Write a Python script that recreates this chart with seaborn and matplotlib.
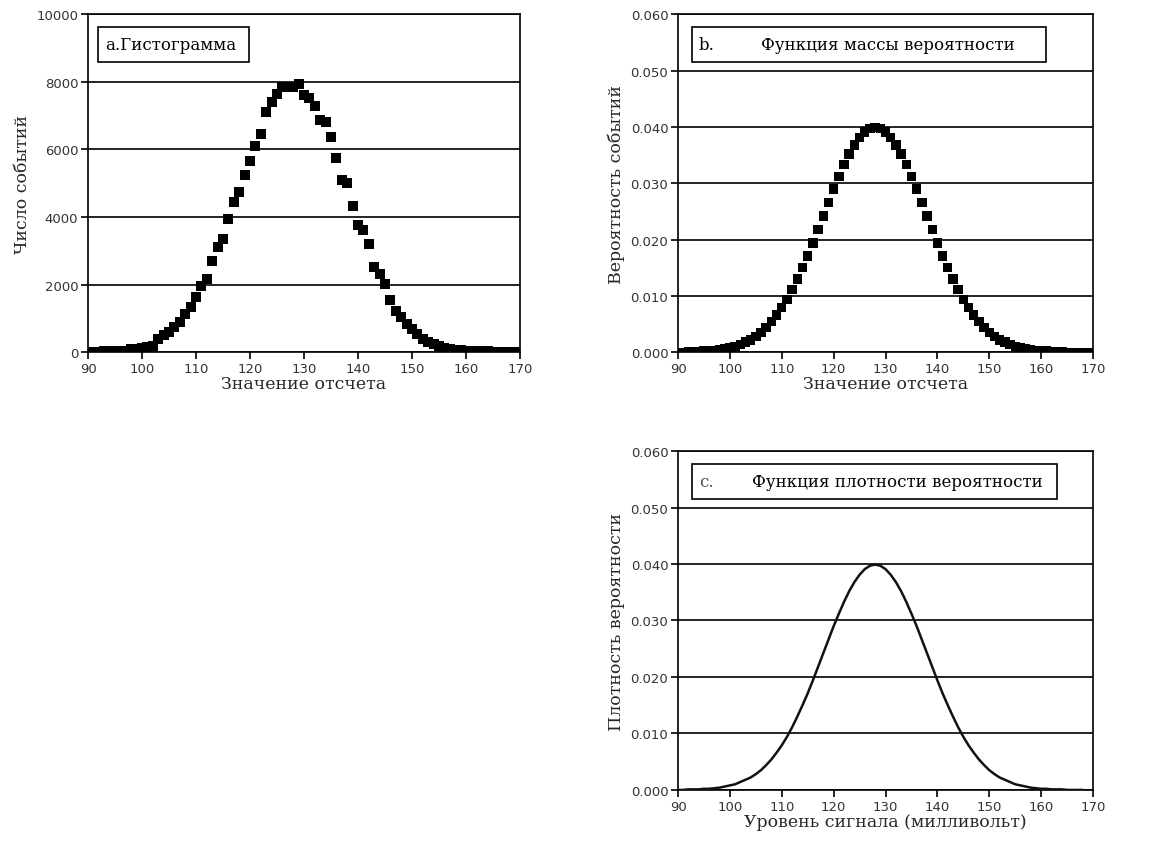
import numpy as np
import pandas as pd
import seaborn as sns
import matplotlib.pyplot as plt
from matplotlib.patches import Rectangle

# sample values (x axis) shared by panels a and b
sample_value = list(range(90, 171))

# a. histogram: number of occurrences per sample value
hist_count = [0, 10, 20, 25, 30, 35, 40, 50, 80, 100,
              130, 150, 190, 380, 500, 610, 740, 880, 1130, 1330,
              1640, 1960, 2180, 2710, 3100, 3360, 3940, 4430, 4730, 5230,
              5670, 6110, 6460, 7110, 7390, 7650, 7840, 7840, 7850, 7940,
              7600, 7520, 7280, 6880, 6820, 6360, 5750, 5090, 5000, 4320,
              3760, 3620, 3200, 2530, 2320, 2020, 1540, 1230, 1030, 840,
              690, 540, 400, 300, 250, 170, 120, 90, 70, 60,
              50, 40, 35, 30, 25, 20, 10, 5, 0, 0,
              0]

# b. probability mass function
pmf_value = [0.0000, 0.0000, 0.0001, 0.0001, 0.0001, 0.0002, 0.0002, 0.0003, 0.0004, 0.0006,
             0.0008, 0.0010, 0.0014, 0.0018, 0.0022, 0.0028, 0.0035, 0.0044, 0.0054, 0.0066,
             0.0079, 0.0094, 0.0111, 0.0130, 0.0150, 0.0171, 0.0194, 0.0218, 0.0242, 0.0266,
             0.0290, 0.0312, 0.0333, 0.0352, 0.0368, 0.0381, 0.0391, 0.0397, 0.0399, 0.0397,
             0.0391, 0.0381, 0.0368, 0.0352, 0.0333, 0.0312, 0.0290, 0.0266, 0.0242, 0.0218,
             0.0194, 0.0171, 0.0150, 0.0130, 0.0111, 0.0094, 0.0079, 0.0066, 0.0054, 0.0044,
             0.0035, 0.0028, 0.0022, 0.0018, 0.0014, 0.0010, 0.0008, 0.0006, 0.0004, 0.0003,
             0.0002, 0.0002, 0.0001, 0.0001, 0.0001, 0.0000, 0.0000, 0.0000, 0.0000, 0.0000,
             0.0000]

# c. probability density function (curve drawn from 90 to 168 mV)
signal_level = list(range(90, 169))
pdf_value = [0.0000, 0.0000, 0.0001, 0.0001, 0.0001, 0.0002, 0.0002, 0.0003, 0.0004, 0.0006,
             0.0008, 0.0010, 0.0014, 0.0018, 0.0022, 0.0028, 0.0035, 0.0044, 0.0054, 0.0066,
             0.0079, 0.0094, 0.0111, 0.0130, 0.0150, 0.0171, 0.0194, 0.0218, 0.0242, 0.0266,
             0.0290, 0.0312, 0.0333, 0.0352, 0.0368, 0.0381, 0.0391, 0.0397, 0.0399, 0.0397,
             0.0391, 0.0381, 0.0368, 0.0352, 0.0333, 0.0312, 0.0290, 0.0266, 0.0242, 0.0218,
             0.0194, 0.0171, 0.0150, 0.0130, 0.0111, 0.0094, 0.0079, 0.0066, 0.0054, 0.0044,
             0.0035, 0.0028, 0.0022, 0.0018, 0.0014, 0.0010, 0.0008, 0.0006, 0.0004, 0.0003,
             0.0002, 0.0002, 0.0001, 0.0001, 0.0001, 0.0000, 0.0000, 0.0000, 0.0000]

x_ticks = [90, 100, 110, 120, 130, 140, 150, 160, 170]
count_ticks = [0, 2000, 4000, 6000, 8000, 10000]
prob_ticks = [0.0, 0.01, 0.02, 0.03, 0.04, 0.05, 0.06]

sns.set_style("white")
plt.rcParams['font.family'] = ['DejaVu Serif']

df_a = pd.DataFrame({'x': sample_value, 'y': hist_count})
df_b = pd.DataFrame({'x': sample_value, 'y': pmf_value})
df_c = pd.DataFrame({'x': signal_level, 'y': pdf_value})

fig = plt.figure(figsize=(11.58, 8.45), dpi=100)
ax_a = fig.add_axes([0.076, 0.582, 0.373, 0.400])
ax_b = fig.add_axes([0.5855, 0.582, 0.3584, 0.400])
ax_c = fig.add_axes([0.5855, 0.064, 0.3584, 0.401])

sns.scatterplot(data=df_a, x='x', y='y', ax=ax_a, marker='s', s=52,
                color='black', edgecolor='none', zorder=3)
sns.scatterplot(data=df_b, x='x', y='y', ax=ax_b, marker='s', s=46,
                color='black', edgecolor='none', zorder=3)
sns.lineplot(data=df_c, x='x', y='y', ax=ax_c, color='#111111', lw=1.8, zorder=3)


def style_axes(ax, yticks, fmt, xlabel, ylabel):
    ax.set_xlim(90, 170)
    ax.set_ylim(yticks[0], yticks[-1])
    ax.set_xticks(x_ticks)
    ax.set_yticks(yticks)
    ax.set_yticklabels([fmt(v) for v in yticks])
    for lab in ax.get_xticklabels() + ax.get_yticklabels():
        lab.set_family('DejaVu Sans')
        lab.set_fontsize(9.5)
        lab.set_color('#333333')
    ax.tick_params(axis='both', direction='out', length=5, width=1.2,
                   color='black', pad=2, left=True, bottom=True)
    ax.yaxis.grid(True, color='black', lw=1.2)
    ax.xaxis.grid(False)
    ax.set_axisbelow(True)
    for sp in ax.spines.values():
        sp.set_visible(True)
        sp.set_color('black')
        sp.set_linewidth(1.2)
    ax.set_xlabel(xlabel, fontsize=12.5, labelpad=0)
    ax.set_ylabel(ylabel, fontsize=12.5, labelpad=4)


def label_box(ax, x0, x1, parts):
    ax.add_patch(Rectangle((x0, 0.858), x1 - x0, 0.104, transform=ax.transAxes,
                           fill=True, facecolor='white', edgecolor='black',
                           lw=1.2, zorder=4))
    for xt, txt, col in parts:
        ax.text(xt, 0.91, txt, transform=ax.transAxes, ha='left', va='center',
                fontsize=12, color=col, zorder=5)


style_axes(ax_a, count_ticks, lambda v: f"{v:d}", "Значение отсчета", "Число событий")
style_axes(ax_b, prob_ticks, lambda v: f"{v:.3f}", "Значение отсчета", "Вероятность событий")
style_axes(ax_c, prob_ticks, lambda v: f"{v:.3f}", "Уровень сигнала (милливольт)",
           "Плотность вероятности")

label_box(ax_a, 0.023, 0.373, [(0.040, "a.Гистограмма", 'black')])
label_box(ax_b, 0.034, 0.887, [(0.050, "b.", 'black'),
                               (0.200, "Функция массы вероятности", 'black')])
label_box(ax_c, 0.034, 0.913, [(0.050, "c.", '#555555'),
                               (0.178, "Функция плотности вероятности", 'black')])

plt.savefig('out.png', dpi=100)
